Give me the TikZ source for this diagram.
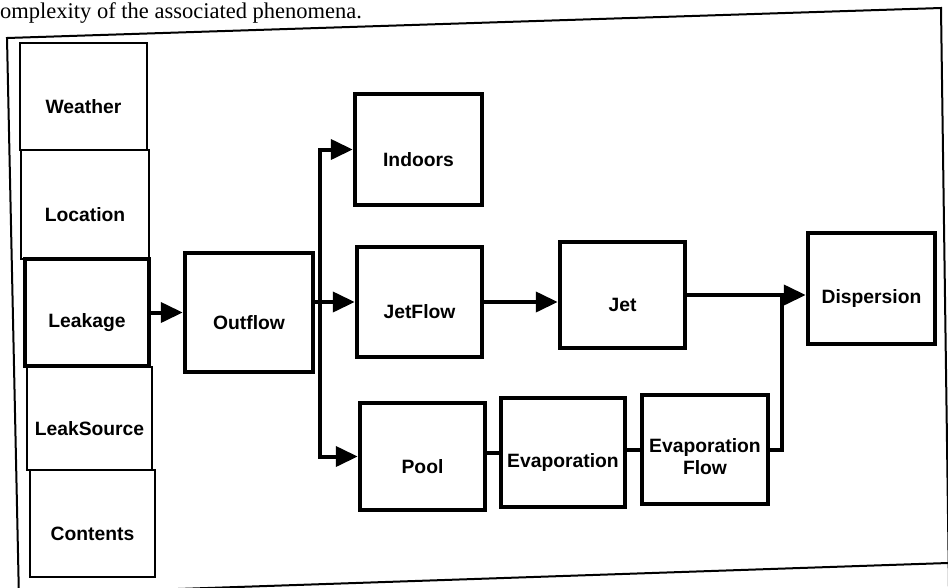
\documentclass[tikz,border=0pt]{standalone}
\usepackage{fontspec}
\setmainfont{Liberation Serif}
\setsansfont{Liberation Sans}
\usetikzlibrary{arrows.meta}
\newcommand\lowtext[1]{\raisebox{-10pt}[\height][\depth]{#1}}

\begin{document}
\begin{tikzpicture}[x=1pt, y=-1pt, >=Triangle,
  font=\sffamily\bfseries\fontsize{19.3}{22}\selectfont,
  cell/.style={draw, line width=2pt, inner sep=0pt},
  blk/.style={draw, line width=4.5pt, inner sep=0pt, minimum width=126, minimum height=109},
  wire/.style={line width=4pt},
  feed/.style={wire, -{Triangle[length=22pt, width=20pt]}}]
  \useasboundingbox (0,0) rectangle (948,587);
  \clip (0,0) rectangle (948,587);

  % page text and frame
  \node[font=\rmfamily\fontsize{22.5}{26}\selectfont, anchor=base west, inner sep=0pt] (caption) at (0,18) {omplexity of the associated phenomena.};
  \draw[line width=2pt] (19,600) -- (7,38) -- (941,8) -- (949,587);
  \draw[line width=2pt] (0,595) -- (948,563);

  % input stack
  \node[cell, minimum width=127, minimum height=107] (weather) at (83.5,96.5) {\lowtext{Weather}};
  \node[cell, minimum width=128, minimum height=109] (location) at (85,204.5) {\lowtext{Location}};
  \node[cell, minimum width=125, minimum height=103] (leaksrc) at (89.5,418.5) {\lowtext{LeakSource}};
  \node[cell, minimum width=125, minimum height=107] (contents) at (92.5,523.5) {\lowtext{Contents}};
  \node[blk, minimum width=124, minimum height=107] (leakage) at (87,312.5) {\lowtext{Leakage}};

  % models
  \node[blk, minimum width=128, minimum height=119] (outflow) at (249,312.5) {\lowtext{Outflow}};
  \node[blk, minimum width=127, minimum height=111] (indoors) at (418.5,149.5) {\lowtext{Indoors}};
  \node[blk, minimum width=125, minimum height=110] (jetflow) at (419.5,302) {\lowtext{JetFlow}};
  \node[blk, minimum width=125, minimum height=106] (jet) at (622.5,295) {\lowtext{Jet}};
  \node[blk, minimum width=127, minimum height=111] (dispersion) at (871.5,288.5) {\lowtext{Dispersion}};
  \node[blk, minimum width=125, minimum height=107] (pool) at (422.5,456.5) {\lowtext{Pool}};
  \node[blk, minimum width=124, minimum height=109] (evap) at (563,452.5) {\lowtext{Evaporation}};
  \node[blk, minimum width=126, minimum height=109] (evapflow) at (705,449.5)
    {\lowtext{\begin{tabular}{@{}c@{}}Evaporation\\Flow\end{tabular}}};

  \coordinate (bus) at (320,0);
  \coordinate (riser) at (782,0);

  \draw[feed] (leakage) -- (outflow);
  \draw[feed] (outflow.east |- jetflow) -- (jetflow.west);
  \draw[feed] (bus |- jetflow) |- (indoors.west);
  \draw[feed] (bus |- jetflow) |- (pool.west);
  \draw[feed] (jetflow.east) -- (jetflow.east -| jet.west);
  \draw[feed] (jet.east) -- (jet.east -| dispersion.west);
  \draw[wire] (pool.east |- evap) -- (evap.west);
  \draw[wire] (evap.east |- evapflow) -- (evapflow.west);
  \draw[wire] (evapflow.east) -| (riser |- jet.east);
\end{tikzpicture}
\end{document}
